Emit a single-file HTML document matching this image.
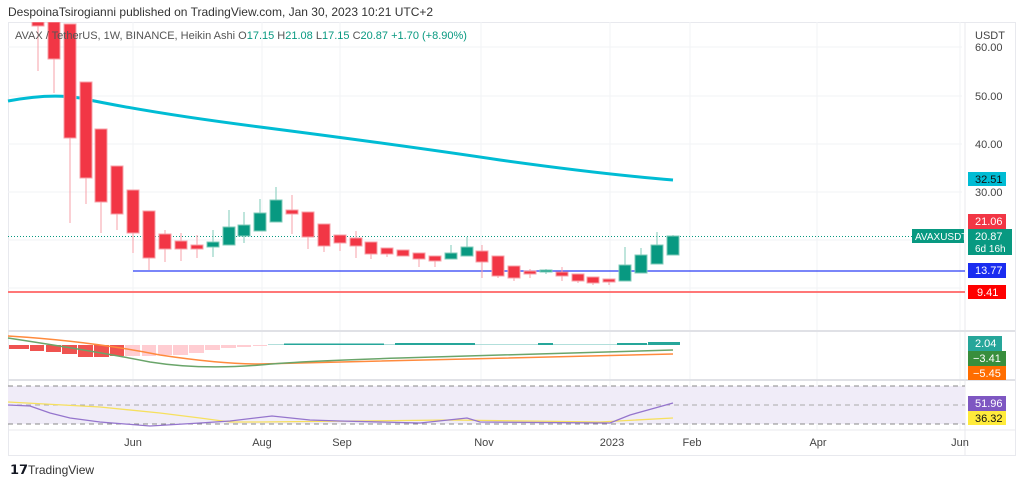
<!DOCTYPE html>
<html><head><meta charset="utf-8"><style>
html,body{margin:0;padding:0;background:#fff;width:1024px;height:485px;overflow:hidden}
svg{display:block;font-family:"Liberation Sans",sans-serif}
</style></head><body>
<svg width="1024" height="485" viewBox="0 0 1024 485" xmlns="http://www.w3.org/2000/svg">
<text x="8" y="16" font-size="12" fill="#333">DespoinaTsirogianni published on TradingView.com, Jan 30, 2023 10:21 UTC+2</text>
<rect x="8.5" y="22.5" width="1007" height="433" fill="#fff" stroke="#e8e9ee"/>
<g stroke="#f2f3f6" stroke-width="1">
<line x1="8" y1="47" x2="962" y2="47"/><line x1="8" y1="96" x2="962" y2="96"/><line x1="8" y1="144" x2="962" y2="144"/><line x1="8" y1="192" x2="962" y2="192"/><line x1="8" y1="240" x2="962" y2="240"/><line x1="8" y1="288" x2="962" y2="288"/>
<line x1="133" y1="22" x2="133" y2="430"/><line x1="262" y1="22" x2="262" y2="430"/><line x1="340" y1="22" x2="340" y2="430"/><line x1="481" y1="22" x2="481" y2="430"/><line x1="610" y1="22" x2="610" y2="430"/><line x1="690" y1="22" x2="690" y2="430"/><line x1="817" y1="22" x2="817" y2="430"/><line x1="960" y1="22" x2="960" y2="430"/>
</g>
<line x1="965" y1="22" x2="965" y2="455" stroke="#e8e9ee"/>
<line x1="8" y1="331" x2="1015" y2="331" stroke="#e0e1e6" stroke-width="2"/>
<line x1="8" y1="380" x2="1015" y2="380" stroke="#e0e1e6" stroke-width="2"/>
<line x1="8" y1="430" x2="1015" y2="430" stroke="#e8e9ee"/>
<path d="M8,101 Q50,93 80,98 Q150,113 260,127 Q400,145 500,160 Q600,174 673,180" fill="none" stroke="#00bcd4" stroke-width="3"/>
<line x1="8" y1="236.5" x2="912" y2="236.5" stroke="#089981" stroke-dasharray="1 2"/>
<line x1="133" y1="271" x2="965" y2="271" stroke="#2a3df5" stroke-width="1.3"/>
<line x1="8" y1="292" x2="965" y2="292" stroke="#f77" stroke-width="2"/>
<svg x="8" y="22" width="957" height="309" viewBox="8 22 957 309">
<g stroke-width="1">
<g fill="#f23645" stroke="#f7a0a8">
<line x1="38" y1="22" x2="38" y2="71"/><rect x="32" y="22" width="12" height="4"/>
<line x1="54" y1="22" x2="54" y2="93"/><rect x="48" y="22" width="12" height="37"/>
<line x1="70" y1="24" x2="70" y2="223"/><rect x="64" y="24" width="12" height="114"/>
<line x1="86" y1="82" x2="86" y2="204"/><rect x="80" y="82" width="12" height="96"/>
<line x1="101" y1="129" x2="101" y2="233"/><rect x="95" y="129" width="12" height="73"/>
<line x1="117" y1="166" x2="117" y2="230"/><rect x="111" y="166" width="12" height="48"/>
<line x1="133" y1="190" x2="133" y2="253"/><rect x="127" y="190" width="12" height="43"/>
<line x1="149" y1="211" x2="149" y2="270"/><rect x="143" y="211" width="12" height="47"/>
<line x1="165" y1="230" x2="165" y2="262"/><rect x="159" y="234" width="12" height="15"/>
<line x1="181" y1="233" x2="181" y2="261"/><rect x="175" y="241" width="12" height="8"/>
<line x1="197" y1="235" x2="197" y2="258"/><rect x="191" y="245" width="12" height="4"/>
<line x1="292" y1="195" x2="292" y2="234"/><rect x="286" y="210" width="12" height="4"/>
<line x1="308" y1="212" x2="308" y2="249"/><rect x="302" y="212" width="12" height="25"/>
<line x1="324" y1="224" x2="324" y2="252"/><rect x="318" y="224" width="12" height="22"/>
<line x1="340" y1="235" x2="340" y2="251"/><rect x="334" y="235" width="12" height="8"/>
<line x1="356" y1="231" x2="356" y2="258"/><rect x="350" y="238" width="12" height="8"/>
<line x1="371" y1="242" x2="371" y2="259"/><rect x="365" y="242" width="12" height="12"/>
<line x1="387" y1="248" x2="387" y2="257"/><rect x="381" y="248" width="12" height="6"/>
<line x1="403" y1="250" x2="403" y2="256"/><rect x="397" y="250" width="12" height="6"/>
<line x1="419" y1="253" x2="419" y2="267"/><rect x="413" y="253" width="12" height="6"/>
<line x1="435" y1="256" x2="435" y2="267"/><rect x="429" y="256" width="12" height="5"/>
<line x1="482" y1="245" x2="482" y2="278"/><rect x="476" y="251" width="12" height="11"/>
<line x1="498" y1="256" x2="498" y2="278"/><rect x="492" y="256" width="12" height="20"/>
<line x1="514" y1="266" x2="514" y2="281"/><rect x="508" y="266" width="12" height="12"/>
<line x1="530" y1="269" x2="530" y2="278"/><rect x="524" y="271" width="12" height="3"/>
<line x1="562" y1="267" x2="562" y2="281"/><rect x="556" y="272" width="12" height="4"/>
<line x1="578" y1="274" x2="578" y2="283"/><rect x="572" y="274" width="12" height="7"/>
<line x1="593" y1="277" x2="593" y2="285"/><rect x="587" y="277" width="12" height="6"/>
<line x1="609" y1="279" x2="609" y2="285"/><rect x="603" y="279" width="12" height="3"/>
</g>
<g fill="#089981" stroke="#7fcbb9">
<line x1="213" y1="230" x2="213" y2="257"/><rect x="207" y="242" width="12" height="5"/>
<line x1="229" y1="210" x2="229" y2="245"/><rect x="223" y="227" width="12" height="18"/>
<line x1="244" y1="212" x2="244" y2="243"/><rect x="238" y="225" width="12" height="11"/>
<line x1="260" y1="199" x2="260" y2="231"/><rect x="254" y="213" width="12" height="18"/>
<line x1="276" y1="187" x2="276" y2="222"/><rect x="270" y="200" width="12" height="22"/>
<line x1="451" y1="245" x2="451" y2="259"/><rect x="445" y="253" width="12" height="6"/>
<line x1="467" y1="237" x2="467" y2="256"/><rect x="461" y="247" width="12" height="9"/>
<line x1="546" y1="269" x2="546" y2="274"/><rect x="540" y="270" width="12" height="2"/>
<line x1="625" y1="247" x2="625" y2="281"/><rect x="619" y="265" width="12" height="16"/>
<line x1="641" y1="248" x2="641" y2="273"/><rect x="635" y="255" width="12" height="18"/>
<line x1="657" y1="232" x2="657" y2="264"/><rect x="651" y="245" width="12" height="19"/>
<line x1="673" y1="235" x2="673" y2="255"/><rect x="667" y="236" width="12" height="19"/>
</g>
</g>
</svg>
<text x="15" y="39" font-size="11" fill="#555">AVAX / TetherUS, 1W, BINANCE, Heikin Ashi  <tspan fill="#555">O</tspan><tspan fill="#089981">17.15</tspan>  <tspan>H</tspan><tspan fill="#089981">21.08</tspan>  <tspan>L</tspan><tspan fill="#089981">17.15</tspan>  <tspan>C</tspan><tspan fill="#089981">20.87  +1.70 (+8.90%)</tspan></text>
<g font-size="11" fill="#444" text-anchor="start">
<text x="975" y="39">USDT</text>
<text x="975" y="51">60.00</text>
<text x="975" y="100">50.00</text>
<text x="975" y="148">40.00</text>
<text x="975" y="196">30.00</text>
</g>
<g font-size="11" fill="#fff">
<rect x="968" y="172" width="38" height="14" fill="#00bcd4"/><text x="975" y="183" fill="#111">32.51</text>
<rect x="968" y="214" width="38" height="15" fill="#f23645"/><text x="975" y="225">21.06</text>
<rect x="968" y="229" width="44" height="26" fill="#089981"/><text x="975" y="240">20.87</text><text x="975" y="252" font-size="10">6d 16h</text>
<rect x="912" y="229" width="52" height="14" fill="#089981"/><text x="915" y="240" font-size="10">AVAXUSDT</text>
<rect x="968" y="263" width="38" height="15" fill="#1a2cf0"/><text x="975" y="274">13.77</text>
<rect x="968" y="285" width="38" height="14" fill="#f00"/><text x="977" y="296">9.41</text>
<rect x="968" y="336" width="34" height="15" fill="#26a69a"/><text x="975" y="347">2.04</text>
<rect x="968" y="351" width="38" height="15" fill="#388e3c"/><text x="973" y="362">−3.41</text>
<rect x="968" y="366" width="38" height="14" fill="#ff6d00"/><text x="973" y="377">−5.45</text>
<rect x="968" y="396" width="38" height="15" fill="#7e57c2"/><text x="975" y="407">51.96</text>
<rect x="968" y="411" width="38" height="14" fill="#ffeb3b"/><text x="975" y="422" fill="#111">36.32</text>
</g>
<g>
<rect x="9" y="345" width="20" height="4" fill="#ef5350"/>
<rect x="30" y="345" width="14" height="6" fill="#ef5350"/>
<rect x="46" y="345" width="15" height="7" fill="#ef5350"/>
<rect x="62" y="345" width="15" height="9" fill="#ef5350"/>
<rect x="78" y="345" width="15" height="12" fill="#ef5350"/>
<rect x="94" y="345" width="15" height="12" fill="#ef5350"/>
<rect x="110" y="345" width="14" height="11" fill="#ef5350"/>
<rect x="125" y="345" width="15" height="11" fill="#ffcdd2"/>
<rect x="142" y="345" width="14" height="11" fill="#ffcdd2"/>
<rect x="158" y="345" width="14" height="10" fill="#ffcdd2"/>
<rect x="173" y="345" width="15" height="10" fill="#ffcdd2"/>
<rect x="189" y="345" width="15" height="8" fill="#ffcdd2"/>
<rect x="205" y="345" width="15" height="5" fill="#ffcdd2"/>
<rect x="221" y="345" width="15" height="3" fill="#ffcdd2"/>
<rect x="237" y="345" width="14" height="2" fill="#ffcdd2"/>
<rect x="253" y="345" width="14" height="1" fill="#ffcdd2"/>
<rect x="268" y="344" width="400" height="1" fill="#b2dfdb"/>
<rect x="284" y="343.5" width="100" height="1.5" fill="#26a69a"/>
<rect x="395" y="343" width="80" height="2" fill="#26a69a"/>
<rect x="538" y="343" width="15" height="2" fill="#26a69a"/>
<rect x="617" y="343" width="30" height="2" fill="#26a69a"/>
<rect x="648" y="342" width="32" height="3" fill="#26a69a"/>
</g>
<path d="M8,336 Q90,341 160,355 Q220,364 259,364 L673,354" fill="none" stroke="#ff8a3d" stroke-width="1.5"/>
<path d="M8,338 Q100,352 150,362 Q200,370 260,365 Q300,361 400,358 L673,350" fill="none" stroke="#6aa56a" stroke-width="1.5"/>
<rect x="8" y="386" width="957" height="38" fill="#f0ecf8"/>
<line x1="8" y1="386" x2="965" y2="386" stroke="#888" stroke-dasharray="5 4"/>
<line x1="8" y1="405" x2="965" y2="405" stroke="#aaa" stroke-dasharray="5 4"/>
<line x1="8" y1="424" x2="965" y2="424" stroke="#888" stroke-dasharray="5 4"/>
<polyline points="8,402 100,407 160,413 200,418 230,422 260,422 450,420 600,422 673,418" fill="none" stroke="#f6e05e" stroke-width="1.3"/>
<polyline points="8,405 30,406 50,413 70,418 100,422 150,426 200,423 230,421 272,416 310,420 340,421 420,423 467,418 480,422 610,423 630,415 673,403" fill="none" stroke="#9575cd" stroke-width="1.3"/>
<g font-size="11" fill="#444" text-anchor="middle">
<text x="133" y="446">Jun</text><text x="262" y="446">Aug</text><text x="342" y="446">Sep</text><text x="484" y="446">Nov</text><text x="612" y="446">2023</text><text x="692" y="446">Feb</text><text x="818" y="446">Apr</text><text x="960" y="446">Jun</text>
</g>
<text x="10" y="474" font-size="13" font-weight="bold" fill="#131722">𝟭𝟳</text>
<text x="28" y="474" font-size="12" fill="#333">TradingView</text>
</svg>
</body></html>
